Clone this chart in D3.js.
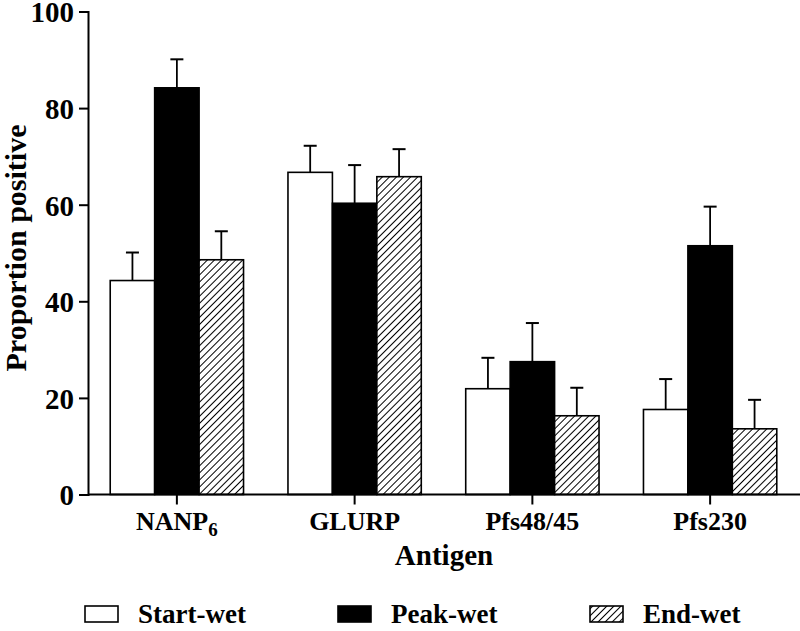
<!DOCTYPE html>
<html>
<head>
<meta charset="utf-8">
<script src="https://cdn.jsdelivr.net/npm/d3@7"></script>
<style>
  html, body { margin: 0; padding: 0; background: #fff; }
  svg { display: block; }
  svg text { font-family: "Liberation Serif", "Times New Roman", "DejaVu Serif", serif !important; font-weight: bold; fill: #000; }
</style>
</head>
<body>
<svg id="chart" width="800" height="631"></svg>
<script>
const categories = ["NANP6", "GLURP", "Pfs48/45", "Pfs230"];
const series = ["Start-wet", "Peak-wet", "End-wet"];
const startWet = [44.3, 66.7, 21.9, 17.6];
const startWetErr = [50.1, 72.2, 28.3, 23.9];
const peakWet = [84.2, 60.3, 27.5, 51.5];
const peakWetErr = [90.1, 68.2, 35.5, 59.6];
const endWet = [48.6, 65.8, 16.3, 13.6];
const endWetErr = [54.5, 71.5, 22.1, 19.6];
const yTicks = [0, 20, 40, 60, 80, 100];

const values = [startWet, peakWet, endWet];
const errTops = [startWetErr, peakWetErr, endWetErr];
const FONT = "'Liberation Serif', 'Times New Roman', serif";

const svg = d3.select("#chart");

const defs = svg.append("defs");
const pat = defs.append("pattern")
  .attr("id", "hatch")
  .attr("patternUnits", "userSpaceOnUse")
  .attr("width", 5).attr("height", 5)
  .attr("patternTransform", "rotate(45)");
pat.append("rect").attr("width", 5).attr("height", 5).attr("fill", "#fff");
pat.append("line").attr("x1", 0).attr("y1", 0).attr("x2", 0).attr("y2", 5)
  .attr("stroke", "#000").attr("stroke-width", 2);

const fills = ["#fff", "#000", "url(#hatch)"];

const y = d3.scaleLinear().domain([0, 100]).range([494.5, 11.5]);
const x = d3.scaleBand().domain(categories).range([88, 799]).paddingInner(0).paddingOuter(0);
const x1 = d3.scaleBand().domain(series).range([0, x.bandwidth()]).paddingInner(0).paddingOuter(0.5);

const rows = [];
categories.forEach((c, i) => {
  series.forEach((s, j) => {
    rows.push({ c, s, j, v: values[j][i], e: errTops[j][i] });
  });
});

const g = svg.append("g");
const eb = g.selectAll("g.err").data(rows).join("g").attr("class", "err");
eb.append("line")
  .attr("x1", d => x(d.c) + x1(d.s) + x1.bandwidth() / 2)
  .attr("x2", d => x(d.c) + x1(d.s) + x1.bandwidth() / 2)
  .attr("y1", d => y(d.v))
  .attr("y2", d => y(d.e))
  .attr("stroke", "#000").attr("stroke-width", 1.8);
eb.append("line")
  .attr("x1", d => x(d.c) + x1(d.s) + x1.bandwidth() / 2 - 6.5)
  .attr("x2", d => x(d.c) + x1(d.s) + x1.bandwidth() / 2 + 6.5)
  .attr("y1", d => y(d.e))
  .attr("y2", d => y(d.e))
  .attr("stroke", "#000").attr("stroke-width", 2);

g.selectAll("rect.bar").data(rows).join("rect")
  .attr("class", "bar")
  .attr("x", d => x(d.c) + x1(d.s))
  .attr("width", x1.bandwidth())
  .attr("y", d => y(d.v))
  .attr("height", d => y(0) - y(d.v))
  .attr("fill", d => fills[d.j])
  .attr("stroke", "#000").attr("stroke-width", 1.6);

// y axis
const yAxis = d3.axisLeft(y).tickValues(yTicks).tickSize(9).tickPadding(5);
const ya = svg.append("g").attr("transform", "translate(88,0)").call(yAxis)
  .attr("font-family", FONT).attr("font-size", 29);
ya.select(".domain").attr("stroke-width", 2);
ya.selectAll(".tick line").attr("stroke-width", 2);
ya.selectAll(".tick text").attr("font-size", 29).attr("font-family", FONT)
  .attr("font-weight", "bold").attr("dy", "0.36em");

// x axis
const xAxis = d3.axisBottom(x).tickSize(10).tickPadding(6).tickFormat("");
const xa = svg.append("g").attr("transform", `translate(0,${y(0)})`).call(xAxis);
xa.select(".domain").attr("stroke-width", 2).attr("d", `M88,0H800`);
xa.selectAll(".tick line").attr("stroke-width", 2);

// x tick labels
categories.forEach(c => {
  const t = svg.append("text")
    .attr("x", x(c) + x.bandwidth() / 2)
    .attr("y", 530)
    .attr("text-anchor", "middle")
    .attr("font-family", FONT)
    .attr("font-size", 26);
  if (c === "NANP6") {
    t.append("tspan").text("NANP");
    t.append("tspan").text("6").attr("font-size", 19).attr("dy", 6);
  } else {
    t.text(c);
  }
});

// axis titles
svg.append("text").attr("x", 444).attr("y", 565).attr("text-anchor", "middle")
  .attr("font-family", FONT).attr("font-size", 29).text("Antigen");
svg.append("text").attr("transform", "translate(26,248) rotate(-90)")
  .attr("text-anchor", "middle").attr("font-family", FONT).attr("font-size", 30)
  .text("Proportion positive");

// legend
const legendX = [85, 338, 590];
const lg = svg.selectAll("g.leg").data(series).join("g").attr("class", "leg")
  .attr("transform", (d, i) => `translate(${legendX[i]},0)`);
lg.append("rect").attr("x", 0).attr("y", 606).attr("width", 33).attr("height", 16)
  .attr("fill", (d, i) => fills[i]).attr("stroke", "#000").attr("stroke-width", 1.6);
lg.append("text").attr("x", 53).attr("y", 623).attr("font-family", FONT)
  .attr("font-size", 27).text(d => d);
</script>
</body>
</html>
